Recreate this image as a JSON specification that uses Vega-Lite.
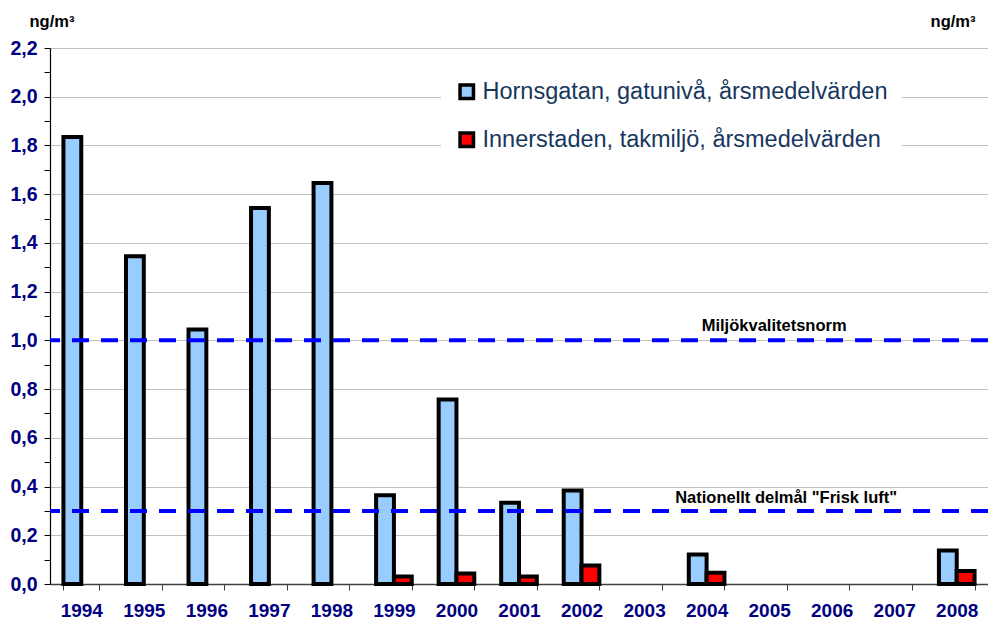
{
  "$schema": "https://vega.github.io/schema/vega-lite/v6.json",
  "width": 938,
  "height": 536,
  "autosize": {"type": "none"},
  "padding": {"left": 50, "top": 48, "right": 0, "bottom": 40},
  "config": {"font": "Liberation Sans", "view": {"stroke": null}},
  "datasets": {
    "bars": [
      {"year": "1994", "series": "Hornsgatan, gatunivå, årsmedelvärden", "value": 1.835},
      {"year": "1995", "series": "Hornsgatan, gatunivå, årsmedelvärden", "value": 1.345},
      {"year": "1996", "series": "Hornsgatan, gatunivå, årsmedelvärden", "value": 1.045},
      {"year": "1997", "series": "Hornsgatan, gatunivå, årsmedelvärden", "value": 1.543},
      {"year": "1998", "series": "Hornsgatan, gatunivå, årsmedelvärden", "value": 1.646},
      {"year": "1999", "series": "Hornsgatan, gatunivå, årsmedelvärden", "value": 0.364},
      {"year": "1999", "series": "Innerstaden, takmiljö, årsmedelvärden", "value": 0.031},
      {"year": "2000", "series": "Hornsgatan, gatunivå, årsmedelvärden", "value": 0.757},
      {"year": "2000", "series": "Innerstaden, takmiljö, årsmedelvärden", "value": 0.043},
      {"year": "2001", "series": "Hornsgatan, gatunivå, årsmedelvärden", "value": 0.333},
      {"year": "2001", "series": "Innerstaden, takmiljö, årsmedelvärden", "value": 0.031},
      {"year": "2002", "series": "Hornsgatan, gatunivå, årsmedelvärden", "value": 0.384},
      {"year": "2002", "series": "Innerstaden, takmiljö, årsmedelvärden", "value": 0.076},
      {"year": "2004", "series": "Hornsgatan, gatunivå, årsmedelvärden", "value": 0.121},
      {"year": "2004", "series": "Innerstaden, takmiljö, årsmedelvärden", "value": 0.046},
      {"year": "2008", "series": "Hornsgatan, gatunivå, årsmedelvärden", "value": 0.138},
      {"year": "2008", "series": "Innerstaden, takmiljö, årsmedelvärden", "value": 0.053}
    ],
    "thresholds": [
      {"label": "Miljökvalitetsnorm", "value": 1.0, "at": "2005"},
      {"label": "Nationellt delmål \"Frisk luft\"", "value": 0.3, "at": "2005"}
    ]
  },
  "resolve": {"axis": {"y": "independent"}},
  "layer": [
    {
      "data": {"name": "bars"},
      "mark": {"type": "bar", "stroke": "#000000", "strokeWidth": 4},
      "encoding": {
        "x": {
          "field": "year", "type": "nominal",
          "scale": {"domain": ["1994","1995","1996","1997","1998","1999","2000","2001","2002","2003","2004","2005","2006","2007","2008"], "paddingInner": 0.43, "paddingOuter": 0.215},
          "axis": {"title": null, "labelAngle": 0, "labelFontSize": 19, "labelFontWeight": "bold", "labelColor": "#000080", "labelPadding": 11, "tickBand": "extent", "tickSize": 6, "tickColor": "#404040", "domainColor": "#404040", "domainWidth": 1.5, "grid": false}
        },
        "xOffset": {"field": "series", "type": "nominal", "scale": {"paddingInner": 0, "paddingOuter": 0}},
        "y": {
          "field": "value", "type": "quantitative",
          "scale": {"domain": [0, 2.2], "nice": false, "zero": true},
          "axis": {
            "title": "ng/m³", "titleAngle": 0, "titleAlign": "left", "titleBaseline": "alphabetic", "titleX": -21, "titleY": -22, "titleFontSize": 16.5, "titleFontWeight": "bold", "titleColor": "#000000",
            "values": [0,0.1,0.2,0.3,0.4,0.5,0.6,0.7,0.8,0.9,1.0,1.1,1.2,1.3,1.4,1.5,1.6,1.7,1.8,1.9,2.0,2.1,2.2],
            "labelExpr": "round(datum.value*10)%2==1 ? '' : replace(format(datum.value,'.1f'),'.',',')",
            "labelFontSize": 19.5, "labelFontWeight": "bold", "labelColor": "#000080", "labelPadding": 7,
            "tickSize": 6, "tickColor": "#000000", "domainColor": "#000000", "domainWidth": 1.2,
            "grid": true, "gridColor": "#C0C0C0", "gridWidth": 1,
            "gridOpacity": {"condition": {"test": "round(datum.value*10)%2==1", "value": 0}, "value": 1}
          }
        },
        "color": {
          "field": "series", "type": "nominal",
          "scale": {"domain": ["Hornsgatan, gatunivå, årsmedelvärden", "Innerstaden, takmiljö, årsmedelvärden"], "range": ["#99CCFF", "#FF0000"]},
          "legend": {
            "title": null, "orient": "none", "legendX": 391, "legendY": 18, "padding": 14,
            "fillColor": "#FFFFFF", "symbolType": "square", "symbolSize": 180, "symbolStrokeWidth": 3.5, "symbolStrokeColor": "#000000", "symbolOpacity": 1,
            "labelFontSize": 23.5, "labelColor": "#17375E", "labelLimit": 600, "labelOffset": 4, "rowPadding": 20
          }
        }
      }
    },
    {
      "data": {"name": "thresholds"},
      "mark": {"type": "rule", "color": "#0000FF", "strokeWidth": 4, "strokeDash": [17, 12]},
      "encoding": {
        "y": {
          "field": "value", "type": "quantitative",
          "axis": {"orient": "right", "labels": false, "ticks": false, "domain": false, "grid": false,
            "title": "ng/m³", "titleAngle": 0, "titleAlign": "right", "titleBaseline": "alphabetic", "titleX": -13, "titleY": -22, "titleFontSize": 16.5, "titleFontWeight": "bold", "titleColor": "#000000"}
        }
      }
    },
    {
      "data": {"name": "thresholds"},
      "transform": [{"filter": "datum.value == 1"}],
      "mark": {"type": "text", "fontSize": 16.5, "fontWeight": "bold", "color": "#000000", "align": "center", "baseline": "middle", "dx": 5, "dy": -14},
      "encoding": {
        "x": {"field": "at", "type": "nominal"},
        "y": {"field": "value", "type": "quantitative", "axis": null},
        "text": {"field": "label"}
      }
    },
    {
      "data": {"name": "thresholds"},
      "transform": [{"filter": "datum.value != 1"}],
      "mark": {"type": "text", "fontSize": 16.5, "fontWeight": "bold", "color": "#000000", "align": "center", "baseline": "middle", "dx": 17, "dy": -13},
      "encoding": {
        "x": {"field": "at", "type": "nominal"},
        "y": {"field": "value", "type": "quantitative", "axis": null},
        "text": {"field": "label"}
      }
    }
  ]
}
